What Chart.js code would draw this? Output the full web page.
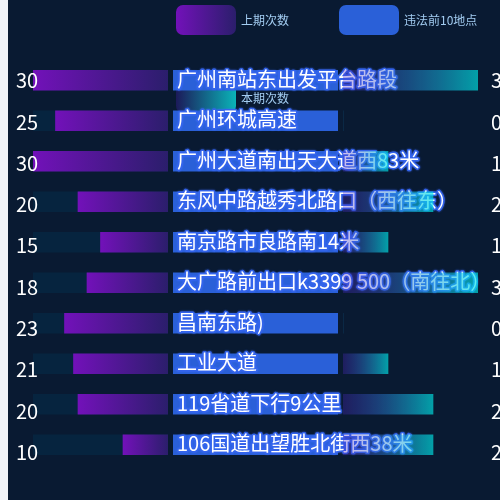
<!DOCTYPE html>
<html>
<head>
<meta charset="utf-8">
<script src="https://cdn.jsdelivr.net/npm/chart.js@4.4.0/dist/chart.umd.min.js"></script>
<style>
  html, body { margin: 0; padding: 0; background: #f0f3f8; }
  #wrap { position: relative; width: 500px; height: 500px; overflow: hidden; }
  #panel { position: absolute; left: 8px; top: 0; width: 492px; height: 500px; background: #091a32; }
  canvas { position: absolute; left: 0; top: 0; }
</style>
</head>
<body>
<div id="wrap">
  <div id="panel"></div>
  <canvas id="left-chart" width="500" height="500"></canvas>
  <canvas id="mid-chart" width="500" height="500"></canvas>
  <canvas id="right-chart" width="500" height="500"></canvas>
</div>
<script>
const PLACES = [
  '广州南站东出发平台路段',
  '广州环城高速',
  '广州大道南出天大道西83米',
  '东风中路越秀北路口（西往东）',
  '南京路市良路南14米',
  '大广路前出口k3399 500（南往北）',
  '昌南东路)',
  '工业大道',
  '119省道下行9公里',
  '106国道出望胜北街西38米'
];
const PREV_COUNTS = [30, 25, 30, 20, 15, 18, 23, 21, 20, 10];
const CURR_COUNTS = [3, 0, 1, 2, 1, 3, 0, 1, 2, 2];
const PREV_TRACK = [30, 30, 30, 30, 30, 30, 30, 30, 30, 30];
const PLACE_BAR = [100, 100, 100, 100, 100, 100, 100, 100, 100, 100];
const SERIES_NAMES = ['上期次数', '违法前10地点', '本期次数'];

const FONT = '"Noto Sans CJK SC", "Noto Sans", sans-serif';
const TOP = 60, BOTTOM = 35;
// the number labels sit on a slightly looser grid than the bars
const LABEL_ROWS = 9.81;

// gradient from the zero end of a bar to its value end
function barGradient(dark, bright, fallback) {
  return function (context) {
    if (context.type !== 'data') return fallback;
    const chart = context.chart;
    const xScale = chart.scales.x;
    const x0 = xScale.getPixelForValue(0);
    const xv = xScale.getPixelForValue(context.raw);
    if (!isFinite(x0) || !isFinite(xv) || x0 === xv) return fallback;
    const g = chart.ctx.createLinearGradient(x0, 0, xv, 0);
    g.addColorStop(0, dark);
    g.addColorStop(1, bright);
    return g;
  };
}

function boxGradient(ctx, x, w, left, right) {
  const g = ctx.createLinearGradient(x, 0, x + w, 0);
  g.addColorStop(0, left);
  g.addColorStop(1, right);
  return g;
}

function drawLegendItem(ctx, x, y, fill, text) {
  ctx.save();
  ctx.fillStyle = fill;
  ctx.beginPath();
  ctx.roundRect(x, y, 60, 30, 7);
  ctx.fill();
  ctx.fillStyle = '#a3cdf2';
  ctx.font = '12px ' + FONT;
  ctx.textBaseline = 'middle';
  ctx.textAlign = 'left';
  ctx.fillText(text, x + 65, y + 15);
  ctx.restore();
}

function valueLabels(values, x) {
  return {
    id: 'valueLabels',
    afterDatasetsDraw(chart) {
      const ctx = chart.ctx;
      const yScale = chart.scales.y;
      ctx.save();
      ctx.fillStyle = '#ffffff';
      ctx.font = '20px ' + FONT;
      ctx.textBaseline = 'middle';
      ctx.textAlign = 'left';
      values.forEach((v, i) => {
        const py = yScale.getPixelForDecimal((i + 0.5) / LABEL_ROWS);
        ctx.fillText(String(v), x, py);
      });
      ctx.restore();
    }
  };
}

const legendPlugin = {
  id: 'customLegend',
  beforeDatasetsDraw(chart) {
    const ctx = chart.ctx;
    drawLegendItem(ctx, 176, 5, boxGradient(ctx, 176, 60, '#7211b9', '#2b1e6c'), SERIES_NAMES[0]);
    drawLegendItem(ctx, 339, 5, '#2a60d8', SERIES_NAMES[1]);
    drawLegendItem(ctx, 176, 83, boxGradient(ctx, 176, 60, '#1c1a5a', '#0ab4b8'), SERIES_NAMES[2]);
  }
};

const placeText = {
  id: 'placeText',
  afterDatasetsDraw(chart) {
    const ctx = chart.ctx;
    const y = chart.scales.y;
    ctx.save();
    ctx.font = '20px ' + FONT;
    ctx.textBaseline = 'middle';
    ctx.textAlign = 'left';
    ctx.lineJoin = 'round';
    PLACES.forEach((name, i) => {
      const py = y.getPixelForValue(i) - 1;
      ctx.shadowColor = '#3d6cff';
      ctx.shadowBlur = 2;
      ctx.lineWidth = 3;
      ctx.strokeStyle = 'rgba(52,100,235,0.95)';
      ctx.strokeText(name, 177, py);
      ctx.shadowBlur = 0;
      ctx.fillStyle = '#ffffff';
      ctx.fillText(name, 177, py);
    });
    ctx.restore();
  }
};

function baseOptions(padding, xMax, reverse) {
  return {
    indexAxis: 'y',
    responsive: false,
    animation: false,
    events: [],
    layout: { padding: padding },
    plugins: { legend: { display: false }, tooltip: { enabled: false } },
    scales: {
      x: { type: 'linear', min: 0, max: xMax, reverse: reverse, display: false },
      y: { type: 'category', offset: true, display: false }
    }
  };
}

new Chart(document.getElementById('left-chart'), {
  type: 'bar',
  data: {
    labels: PLACES,
    datasets: [
      {
        label: SERIES_NAMES[0],
        data: PREV_COUNTS,
        barThickness: 20,
        grouped: false,
        backgroundColor: barGradient('#2b1e6c', '#7211b9', '#4a1890')
      },
      {
        label: 'track',
        data: PREV_TRACK,
        barThickness: 20,
        grouped: false,
        backgroundColor: '#06243f'
      }
    ]
  },
  options: baseOptions({ left: 33, right: 332, top: TOP, bottom: BOTTOM }, 30, true),
  plugins: [legendPlugin, valueLabels(PREV_COUNTS, 16)]
});

new Chart(document.getElementById('mid-chart'), {
  type: 'bar',
  data: {
    labels: PLACES,
    datasets: [{
      label: SERIES_NAMES[1],
      data: PLACE_BAR,
      barThickness: 20,
      backgroundColor: '#2a60d8'
    }]
  },
  options: baseOptions({ left: 173, right: 162, top: TOP, bottom: BOTTOM }, 100, false),
  plugins: [placeText]
});

new Chart(document.getElementById('right-chart'), {
  type: 'bar',
  data: {
    labels: PLACES,
    datasets: [{
      label: SERIES_NAMES[2],
      data: CURR_COUNTS,
      barThickness: 20,
      backgroundColor: barGradient('rgba(80,40,200,0.3)', 'rgba(0,232,232,0.65)', 'rgba(20,120,170,0.5)')
    }]
  },
  options: baseOptions({ left: 343, right: 22, top: TOP, bottom: BOTTOM }, 3, false),
  plugins: [valueLabels(CURR_COUNTS, 491)]
});
</script>
</body>
</html>
